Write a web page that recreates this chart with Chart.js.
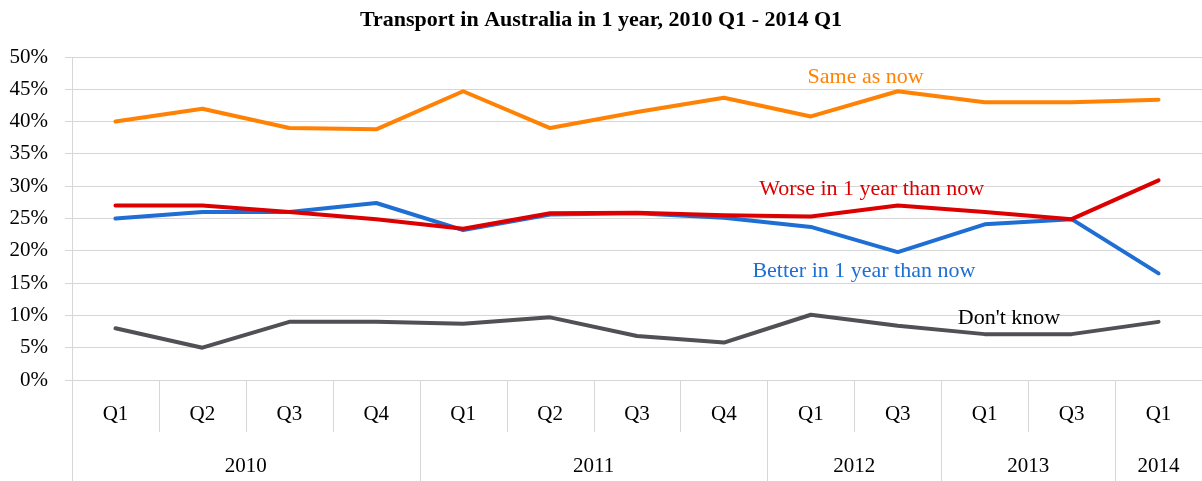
<!DOCTYPE html>
<html>
<head>
<meta charset="utf-8">
<script src="https://cdn.jsdelivr.net/npm/chart.js@4/dist/chart.umd.min.js"></script>
<style>
  html, body { margin: 0; padding: 0; background: #fff; }
  #wrap { width: 1202px; height: 481px; }
</style>
</head>
<body>
<div id="wrap"><canvas id="chart"></canvas></div>
<script>
// categories (two-level axis: quarter + year group)
const quarters = ['Q1','Q2','Q3','Q4','Q1','Q2','Q3','Q4','Q1','Q3','Q1','Q3','Q1'];
const years     = ['2010','2011','2012','2013','2014'];
const yearSizes = [4, 4, 2, 2, 1];

// series values (%)
const sameAsNow = [40, 42, 39, 38.8, 44.7, 39, 41.5, 43.7, 40.8, 44.7, 43, 43, 43.4];
const worse     = [27, 27, 26, 24.9, 23.4, 25.8, 25.9, 25.5, 25.3, 27, 26, 24.9, 30.9];
const better    = [25, 26, 26, 27.4, 23.2, 25.6, 25.8, 25.1, 23.7, 19.8, 24.1, 24.9, 16.5];
const dontKnow  = [8, 5, 9, 9, 8.7, 9.7, 6.8, 5.8, 10.1, 8.4, 7.1, 7.1, 9];

const yTicks = { min: 0, max: 50, step: 5 };

const serif = "'Liberation Serif', 'Times New Roman', serif";
const gridColor = '#d6d6d6';

// in-chart series labels: [text, colour, category position, value]
const seriesLabels = [
  ['Same as now',               '#FF8205', 8.63, 46.8],
  ['Worse in 1 year than now',  '#DC0000', 8.70, 29.6],
  ['Better in 1 year than now', '#1F6ED4', 8.61, 16.8],
  ["Don't know",                '#000000', 10.28, 9.6]
];

// draws quarter/year separators, year labels and series labels
const groupAxis = {
  id: 'groupAxis',
  afterDraw(chart) {
    const ctx = chart.ctx;
    const x = chart.scales.x, y = chart.scales.y;
    const step = x.getPixelForValue(1) - x.getPixelForValue(0);
    const top = chart.chartArea.bottom;
    const bottom = chart.height;

    ctx.save();
    ctx.strokeStyle = gridColor;
    ctx.lineWidth = 1;
    const vline = (px, y1, y2) => {
      const xx = Math.round(px) + 0.5;
      ctx.beginPath(); ctx.moveTo(xx, y1); ctx.lineTo(xx, y2); ctx.stroke();
    };

    // left axis continues down through the label rows
    vline(chart.chartArea.left - 0.5, top, bottom);

    let start = 0;
    ctx.fillStyle = '#000';
    ctx.font = '21px ' + serif;
    ctx.textAlign = 'center';
    ctx.textBaseline = 'middle';
    years.forEach((yr, g) => {
      const end = start + yearSizes[g] - 1;
      for (let i = start + 1; i <= end; i++) {
        vline(x.getPixelForValue(i) - step / 2, top, top + 52);
      }
      if (g > 0) vline(x.getPixelForValue(start) - step / 2, top, bottom);
      const cx = (x.getPixelForValue(start) + x.getPixelForValue(end)) / 2;
      ctx.fillText(yr, cx, bottom - 15);
      start = end + 1;
    });

    ctx.font = '22px ' + serif;
    seriesLabels.forEach(([text, color, pos, val]) => {
      ctx.fillStyle = color;
      ctx.fillText(text, x.getPixelForValue(pos), y.getPixelForValue(val));
    });
    ctx.restore();
  }
};

const lineStyle = color => ({
  borderColor: color,
  backgroundColor: color,
  borderWidth: 4,
  pointRadius: 0,
  tension: 0,
  fill: false,
  borderJoinStyle: 'round',
  borderCapStyle: 'round'
});

new Chart(document.getElementById('chart'), {
  type: 'line',
  data: {
    labels: quarters,
    datasets: [
      { label: 'Same as now', data: sameAsNow, ...lineStyle('#FF8205') },
      { label: 'Worse in 1 year than now', data: worse, ...lineStyle('#DC0000') },
      { label: 'Better in 1 year than now', data: better, ...lineStyle('#1F6ED4') },
      { label: "Don't know", data: dontKnow, ...lineStyle('#505055') }
    ]
  },
  options: {
    responsive: true,
    maintainAspectRatio: false,
    animation: false,
    layout: { padding: 0 },
    plugins: {
      legend: { display: false },
      tooltip: { enabled: false },
      title: {
        display: true,
        text: 'Transport in Australia in 1 year, 2010 Q1 - 2014 Q1',
        color: '#000',
        font: { family: serif, size: 22, weight: 'bold', lineHeight: 1.2 },
        padding: { top: 7, bottom: 23.6 }
      }
    },
    scales: {
      x: {
        offset: true,
        grid: { display: false },
        border: { display: false },
        ticks: { color: '#000', font: { family: serif, size: 21 }, padding: 14, maxRotation: 0, autoSkip: false },
        afterFit: s => { s.height = 101; }
      },
      y: {
        min: yTicks.min,
        max: yTicks.max,
        grid: { color: gridColor, tickLength: 7 },
        border: { color: gridColor },
        ticks: {
          stepSize: yTicks.step,
          color: '#000',
          font: { family: serif, size: 21 },
          padding: 17,
          callback: v => v + '%'
        },
        afterFit: s => { s.width = 72; }
      }
    }
  },
  plugins: [groupAxis]
});
</script>
</body>
</html>
